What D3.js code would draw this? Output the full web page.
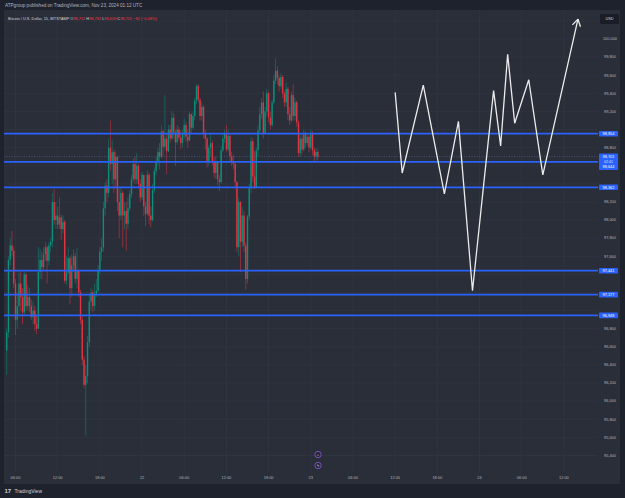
<!DOCTYPE html>
<html>
<head>
<meta charset="utf-8">
<script src="https://cdn.jsdelivr.net/npm/d3@7"></script>
<style>
  body { margin: 0; background: #1e222d; }
  svg text { font-family: "Liberation Sans", Arial, sans-serif; }
</style>
</head>
<body>
<div id="chart"></div>
<script>
// Global Variables
var W = 625, H = 498;
var pane = {left: 4, right: 598, top: 10, bottom: 472};

// BTC/USD 15m candles, first bar Nov 21 04:45 UTC
var firstOpen = 96560;
var closes = [
  96760, 97560, 97720, 97660, 97300, 96900, 97050, 97300, 97150, 96980,
  97400, 97050, 97150, 97050, 96930, 97000, 96850, 96800, 97430, 97560,
  97480, 97620, 97700, 97550, 97720, 97760, 98200, 98000, 98050, 97950,
  98030, 97900, 97980, 97330, 97420, 97580, 97250, 97500, 97600, 97350,
  97450, 97200, 96900, 96460, 96180, 96280, 96650, 97100, 97200, 97050,
  97180, 97220, 97450, 97650, 97700, 98130, 98380, 98300, 98800, 98620,
  98750, 98450, 98700, 98200, 98050, 98300, 98050, 98100, 97960, 98130,
  98290, 98450, 98620, 98450, 98600, 98400, 98250, 98500, 98150, 98070,
  98500, 98050, 98000, 98330, 98540, 98650, 98750, 98700, 98980, 98810,
  98900, 98760, 99000, 98900, 99130, 98970, 98860, 99000, 98910, 98850,
  98950, 99050, 98920, 98880, 99170, 99020, 99150, 99320, 99480, 99330,
  99150, 99250, 98950, 98900, 98640, 98800, 98850, 98650, 98520, 98650,
  98450, 98420, 98770, 98900, 98950, 98780, 98930, 98700, 98650, 98620,
  98420, 97700, 98200, 97760, 98050, 97720, 97350, 98040, 98350, 98870,
  98480, 98360, 98770, 98990, 99170, 99300, 98960, 99200, 99400, 99130,
  99050, 99300, 99540, 99650, 99570, 99480, 99580, 99400, 99300, 99450,
  99170, 99100, 99380, 99150, 99300, 99080, 98740, 98900, 98780, 98950,
  98850, 98920, 98800, 98950, 98770, 98700, 98752, 98701
];
var highs = [
  96800, 97600, 97800, 97880, 97700, 97350, 97200, 97420, 97430, 97250,
  97430, 97420, 97280, 97250, 97120, 97100, 97050, 96950, 97700, 97680,
  97650, 97700, 97760, 97720, 97760, 97800, 98300, 98340, 98200, 98150,
  98250, 98060, 98050, 98000, 97600, 97700, 97600, 97620, 97680, 97640,
  97690, 97450, 97230, 96950, 96500, 96400, 96720, 97180, 97250, 97230,
  97300, 97350, 97500, 97700, 97800, 98200, 98420, 98450, 98900, 99100,
  98880, 98780, 98760, 98700, 98350, 98360, 98320, 98200, 98200, 98250,
  98330, 98500, 98680, 98700, 98740, 98620, 98450, 98530, 98500, 98200,
  98550, 98520, 98150, 98400, 98580, 98700, 98800, 98850, 99050, 99000,
  99380, 98950, 99050, 99050, 99200, 99180, 99000, 99050, 99030, 98990,
  99000, 99120, 99080, 99000, 99200, 99180, 99200, 99350, 99500, 99500,
  99350, 99300, 99270, 99000, 98920, 98830, 98950, 98880, 98700, 98700,
  98650, 98500, 98820, 98950, 99000, 99050, 99000, 98950, 98750, 98720,
  98650, 98430, 98250, 98210, 98150, 98100, 97750, 98060, 98400, 98920,
  98900, 98760, 98800, 99050, 99250, 99350, 99420, 99250, 99450, 99420,
  99200, 99330, 99600, 99790, 99700, 99600, 99620, 99600, 99420, 99520,
  99470, 99250, 99420, 99500, 99350, 99320, 99100, 98950, 98950, 99000,
  98980, 98960, 98940, 99000, 98980, 98800, 98800, 98782
];
var lows = [
  96290, 96700, 97500, 97600, 97250, 96730, 96800, 96950, 97000, 96850,
  96950, 97000, 97000, 96980, 96900, 96850, 96780, 96740, 96800, 97350,
  97350, 97450, 97550, 97300, 97500, 97650, 97700, 97950, 97900, 97900,
  97900, 97780, 97850, 97300, 97280, 97400, 97070, 97150, 97450, 97300,
  97250, 97150, 96850, 96400, 96150, 95620, 96200, 96600, 97000, 96980,
  97000, 97150, 97200, 97400, 97550, 97650, 98050, 98200, 98250, 98550,
  98400, 98300, 98350, 98100, 97800, 98000, 97700, 97900, 97660, 97900,
  98100, 98250, 98420, 98400, 98400, 98350, 98200, 98220, 98050, 97930,
  98050, 97950, 97920, 97980, 98300, 98500, 98600, 98560, 98680, 98700,
  98780, 98510, 98750, 98850, 98880, 98900, 98600, 98830, 98880, 98780,
  98800, 98900, 98860, 98800, 98870, 98950, 99000, 99100, 99280, 99300,
  99100, 99100, 98900, 98780, 98580, 98600, 98700, 98600, 98470, 98450,
  98380, 98320, 98400, 98750, 98850, 98750, 98760, 98650, 98600, 98560,
  98350, 97650, 97600, 97430, 97700, 97650, 97230, 97300, 98000, 98300,
  98420, 98340, 98350, 98700, 98950, 99120, 98900, 98950, 99150, 99080,
  99000, 99030, 99280, 99500, 99500, 99420, 99450, 99350, 99250, 99250,
  99100, 99050, 99080, 99100, 99100, 99030, 98700, 98700, 98720, 98760,
  98800, 98830, 98750, 98780, 98720, 98640, 98660, 98659
];

// horizontal levels drawn by the author
var levels = [98954, 98644, 98362, 97441, 97177, 96948];
var lastPrice = 98701;

// hand drawn projection
var projTimes = ["2024-11-23T12:00Z", "2024-11-23T13:00Z", "2024-11-23T16:00Z", "2024-11-23T19:00Z",
                 "2024-11-23T21:00Z", "2024-11-23T23:00Z", "2024-11-24T02:00Z", "2024-11-24T03:00Z",
                 "2024-11-24T04:00Z", "2024-11-24T05:00Z", "2024-11-24T07:00Z", "2024-11-24T09:00Z",
                 "2024-11-24T14:00Z"];
var projPrices = [99410, 98520, 99490, 98290, 99090, 97220, 99430, 98820, 99830, 99070, 99550, 98500, 100220];

var priceTicks = [95400, 95600, 95800, 96000, 96200, 96400, 96600, 96800, 97000, 97200, 97400, 97600,
                  97800, 98000, 98200, 98400, 98600, 98800, 99000, 99200, 99400, 99600, 99800, 100000, 100200];
var timeTicks = ["2024-11-21T06:00Z", "2024-11-21T12:00Z", "2024-11-21T18:00Z", "2024-11-22T00:00Z",
                 "2024-11-22T06:00Z", "2024-11-22T12:00Z", "2024-11-22T18:00Z", "2024-11-23T00:00Z",
                 "2024-11-23T06:00Z", "2024-11-23T12:00Z", "2024-11-23T18:00Z", "2024-11-24T00:00Z",
                 "2024-11-24T06:00Z", "2024-11-24T12:00Z"];
var timeLabels = ["06:00", "12:00", "18:00", "22", "06:00", "12:00", "18:00", "23",
                  "06:00", "12:00", "18:00", "24", "06:00", "12:00"];

var upColor = "#089981", downColor = "#f23645", blue = "#2962ff";
var fmt = d3.format(",");

function getScales(){
  var x = d3.scaleUtc()
            .domain([new Date("2024-11-21T04:22Z"), new Date("2024-11-24T16:51Z")])
            .range([pane.left, pane.right]);
  var y = d3.scaleLinear()
            .domain([95400, 100000])
            .range([455.5, 39]);
  return [x, y];
}

function getCandles(){
  var t0 = Date.UTC(2024, 10, 21, 4, 45);
  return closes.map(function(c, i){
    return {
      t: new Date(t0 + i*15*60000),
      o: i == 0 ? firstOpen : closes[i-1],
      h: highs[i], l: lows[i], c: c
    };
  });
}

function drawChart(){
  var scales = getScales();
  var x = scales[0], y = scales[1];

  var svg = d3.select("#chart").append("svg")
              .attr("width", W).attr("height", H);

  svg.append("rect").attr("width", W).attr("height", H).attr("fill", "#1e222d");
  // pane + axes background
  svg.append("rect").attr("x", pane.left).attr("y", pane.top)
     .attr("width", 620 - pane.left).attr("height", 484 - pane.top).attr("fill", "#2a2e39");

  svg.append("defs").append("clipPath").attr("id", "clip")
     .append("rect").attr("x", pane.left).attr("y", pane.top)
     .attr("width", pane.right - pane.left).attr("height", pane.bottom - pane.top);

  var g = svg.append("g").attr("clip-path", "url(#clip)");

  // grid
  g.selectAll(".hgrid").data(priceTicks).enter().append("line")
   .attr("x1", pane.left).attr("x2", pane.right)
   .attr("y1", d => y(d)).attr("y2", d => y(d))
   .attr("stroke", "#343845").attr("stroke-width", 0.6);
  g.selectAll(".vgrid").data(timeTicks).enter().append("line")
   .attr("x1", d => x(new Date(d))).attr("x2", d => x(new Date(d)))
   .attr("y1", pane.top).attr("y2", pane.bottom)
   .attr("stroke", "#343845").attr("stroke-width", 0.6);

  // candles
  var candles = getCandles();
  var cg = g.append("g").attr("opacity", 0.92);
  cg.selectAll(".wick").data(candles).enter().append("line")
    .attr("x1", d => x(d.t)).attr("x2", d => x(d.t))
    .attr("y1", d => y(Math.max(d.h, d.o, d.c))).attr("y2", d => y(Math.min(d.l, d.o, d.c)))
    .attr("stroke", d => d.c >= d.o ? upColor : downColor)
    .attr("stroke-width", 0.7).attr("opacity", 0.75);
  cg.selectAll(".body").data(candles).enter().append("rect")
    .attr("x", d => x(d.t) - 0.7).attr("width", 1.4)
    .attr("y", d => y(Math.max(d.o, d.c)))
    .attr("height", d => Math.max(0.7, Math.abs(y(d.o) - y(d.c))))
    .attr("fill", d => d.c >= d.o ? upColor : downColor);

  // last price line
  g.append("line").attr("x1", pane.left).attr("x2", pane.right)
   .attr("y1", y(lastPrice)).attr("y2", y(lastPrice))
   .attr("stroke", "#5b6a9a").attr("stroke-width", 0.6).attr("stroke-dasharray", "1,1.5");

  // levels
  g.selectAll(".level").data(levels).enter().append("line")
   .attr("x1", pane.left).attr("x2", pane.right)
   .attr("y1", d => y(d)).attr("y2", d => y(d))
   .attr("stroke", blue).attr("stroke-width", 1.7);

  // projection
  var proj = projTimes.map((t, i) => [x(new Date(t)), y(projPrices[i])]);
  g.append("path").attr("d", d3.line()(proj))
   .attr("fill", "none").attr("stroke", "#ececec").attr("stroke-width", 1.3)
   .attr("stroke-linejoin", "miter");
  var tip = proj[proj.length - 1], prev = proj[proj.length - 2];
  var ang = Math.atan2(tip[1] - prev[1], tip[0] - prev[0]);
  [ang + 2.6, ang - 2.6].forEach(function(a){
    g.append("line").attr("x1", tip[0]).attr("y1", tip[1])
     .attr("x2", tip[0] + 8*Math.cos(a)).attr("y2", tip[1] + 8*Math.sin(a))
     .attr("stroke", "#ececec").attr("stroke-width", 1.3);
  });

  // price axis labels, skipping the ones hidden by the blue tags / USD box
  var tagYs = levels.map(v => y(v)).concat([y(lastPrice) + 5, y(lastPrice) + 10]);
  var shown = priceTicks.filter(function(d){
    var py = y(d);
    if (py < 27) return false;
    return tagYs.every(ty => Math.abs(ty - py) > 5);
  });
  svg.selectAll(".plabel").data(shown).enter().append("text")
     .attr("x", 610).attr("y", d => y(d) + 1.3)
     .attr("text-anchor", "middle").attr("font-size", 3.9).attr("fill", "#b2b5be")
     .text(d => fmt(d));

  // level labels
  levels.forEach(function(v){
    if (v == 98644) return;
    svg.append("rect").attr("x", 599).attr("y", y(v) - 2.8).attr("width", 19).attr("height", 5.6)
       .attr("rx", 0.8).attr("fill", blue);
    svg.append("text").attr("x", 608.5).attr("y", y(v) + 1.4).attr("text-anchor", "middle")
       .attr("font-size", 3.9).attr("fill", "#ffffff").text(fmt(v));
  });
  // last price block with countdown
  var ly = y(lastPrice);
  svg.append("rect").attr("x", 599).attr("y", ly - 3).attr("width", 19).attr("height", 16.5)
     .attr("rx", 0.8).attr("fill", blue);
  svg.append("text").attr("x", 608.5).attr("y", ly + 1.3).attr("text-anchor", "middle")
     .attr("font-size", 3.9).attr("fill", "#ffffff").text(fmt(lastPrice));
  svg.append("text").attr("x", 608.5).attr("y", ly + 6.3).attr("text-anchor", "middle")
     .attr("font-size", 3.6).attr("fill", "#dfe6ff").text("02:41");
  svg.append("text").attr("x", 608.5).attr("y", ly + 11.3).attr("text-anchor", "middle")
     .attr("font-size", 3.9).attr("fill", "#ffffff").text(fmt(levels[1]));

  // USD box
  svg.append("rect").attr("x", 600).attr("y", 14).attr("width", 19).attr("height", 10)
     .attr("rx", 1.5).attr("fill", "#1a1d27");
  svg.append("text").attr("x", 609.5).attr("y", 20.4).attr("text-anchor", "middle")
     .attr("font-size", 3.8).attr("fill", "#d1d4dc").text("USD");

  // time axis labels
  svg.selectAll(".tlabel").data(timeTicks).enter().append("text")
     .attr("x", d => x(new Date(d))).attr("y", 478.5)
     .attr("text-anchor", "middle").attr("font-size", 3.9).attr("fill", "#b2b5be")
     .text((d, i) => timeLabels[i]);

  // event icons
  [454.5, 465.5].forEach(function(cy, i){
    svg.append("circle").attr("cx", 318).attr("cy", cy).attr("r", 3.2)
       .attr("fill", "#262a36").attr("stroke", "#8a5cd6").attr("stroke-width", 0.8);
    svg.append("text").attr("x", 318).attr("y", cy + 1.5).attr("text-anchor", "middle")
       .attr("font-size", 4).attr("fill", "#c9b3f5").text(i == 0 ? "+" : "ϟ");
  });

  // header
  svg.append("text").attr("x", 5).attr("y", 7).attr("font-size", 4.6).attr("fill", "#b2b5be")
     .text("ATPgroup published on TradingView.com, Nov 23, 2024 01:12 UTC");
  var hd = svg.append("text").attr("x", 8).attr("y", 19.5).attr("font-size", 3.9).attr("fill", "#d1d4dc");
  hd.append("tspan").text("Bitcoin / U.S. Dollar, 15, BITSTAMP  ");
  [["O", "98,752"], ["H", "98,782"], ["L", "98,659"], ["C", "98,701"]].forEach(function(p){
    hd.append("tspan").text(p[0]);
    hd.append("tspan").attr("fill", downColor).text(p[1] + " ");
  });
  hd.append("tspan").attr("fill", downColor).text("\u221282 (\u22120.08%)");

  // footer logo
  svg.append("text").attr("x", 4.5).attr("y", 492.5).attr("font-size", 6).attr("font-weight", "bold")
     .attr("fill", "#d1d4dc").text("17");
  svg.append("text").attr("x", 14.5).attr("y", 492.5).attr("font-size", 5).attr("fill", "#d1d4dc")
     .text("TradingView");
}

drawChart();
</script>
</body>
</html>
